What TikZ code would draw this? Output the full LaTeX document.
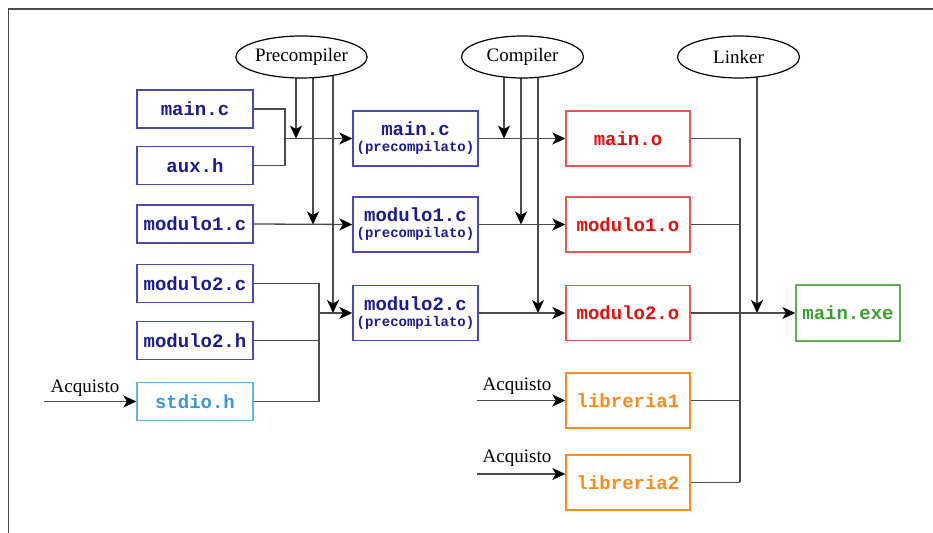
\documentclass[tikz,border=0pt]{standalone}
\usepackage{fontspec}
\setmainfont{Liberation Serif}
\setmonofont{Liberation Mono}
\usetikzlibrary{arrows.meta,backgrounds,shapes.geometric}

\definecolor{srcblue}{HTML}{1C1C8C}
\definecolor{srcline}{HTML}{4A4AB0}
\definecolor{objred}{HTML}{E01010}
\definecolor{objline}{HTML}{E85555}
\definecolor{libor}{HTML}{FF8A1E}
\definecolor{exegreen}{HTML}{3C9E32}
\definecolor{exeline}{HTML}{5AB04A}
\definecolor{sysblue}{HTML}{3A9AD0}
\definecolor{sysline}{HTML}{66B5E0}
\definecolor{wire}{HTML}{4A4A4A}

\tikzset{
  filebox/.style ={rectangle,draw,line width=0.7pt,fill=white,minimum width=58pt,
                   minimum height=19pt,inner sep=0pt,align=center,
                   font=\fontsize{9.5}{9}\selectfont\ttfamily\bfseries},
  srcbox/.style  ={filebox,draw=srcline,text=srcblue},
  sysbox/.style  ={filebox,draw=sysline,text=sysblue},
  prebox/.style  ={filebox,draw=srcline,text=srcblue,minimum width=62.5pt,
                   minimum height=27.5pt},
  objbox/.style  ={filebox,draw=objline,text=objred,minimum width=62pt,
                   minimum height=27.5pt},
  libbox/.style  ={objbox,draw=libor,text=libor},
  exebox/.style  ={filebox,draw=exeline,text=exegreen,minimum width=52pt,
                   minimum height=28pt},
  toolell/.style ={ellipse,draw=black,line width=0.6pt,fill=white,minimum width=61pt,
                   minimum height=21pt,inner sep=0pt,font=\fontsize{9.5}{11}\selectfont},
  ann/.style     ={font=\fontsize{9.5}{11}\selectfont,inner sep=1pt},
  wr/.style      ={draw=wire,line width=0.65pt},
  ar/.style      ={-{Stealth[length=6.5pt,width=6pt,inset=1.8pt,color=black]},
                   draw=wire,line width=0.65pt},
  framel/.style  ={draw=black!70,line width=0.7pt},
}
\newcommand{\precomp}{\\[-1pt]{\fontsize{7}{8}\selectfont(precompilato)}}

\begin{document}
\begin{tikzpicture}[
  x=0.5pt, y=-0.5pt,
]
\useasboundingbox (0,0) rectangle (933,533);
\draw[framel] (8.5,533) -- (8.5,9) -- (933,9);

%% tools
\node[toolell] (precomp) at (301.5,57) {Precompiler};
\node[toolell] (comp)    at (522.5,57) {Compiler};
\node[toolell] (linker)  at (738.5,57) {Linker};

%% sources
\node[srcbox] (mainc)  at (195,109)   {main.c};
\node[srcbox] (auxh)   at (195,165.5) {aux.h};
\node[srcbox] (mod1c)  at (195,224)   {modulo1.c};
\node[srcbox] (mod2c)  at (195,283.5) {modulo2.c};
\node[srcbox] (mod2h)  at (195,340.5) {modulo2.h};
\node[sysbox] (stdioh) at (195,401.5) {stdio.h};

%% precompiled
\node[prebox] (mainp) at (415.5,138.5) {main.c\precomp};
\node[prebox] (mod1p) at (415.5,224.5) {modulo1.c\precomp};
\node[prebox] (mod2p) at (415.5,313)   {modulo2.c\precomp};

%% objects and libraries
\node[objbox] (maino) at (628,138.5) {main.o};
\node[objbox] (mod1o) at (628,224.5) {modulo1.o};
\node[objbox] (mod2o) at (628,313)   {modulo2.o};
\node[libbox] (lib1)  at (628,400.5) {libreria1};
\node[libbox] (lib2)  at (628,482.5) {libreria2};

\node[exebox] (mainexe) at (848,313) {main.exe};

%% junctions and free ends
\coordinate (jmain) at (285,138.5);
\coordinate (jmod2) at (319,313);
\coordinate (lbus)  at (740,482.5);
\coordinate (tp1) at (296,138.5);
\coordinate (tp2) at (313,224.5);
\coordinate (tp3) at (333,313);
\coordinate (tc1) at (504,138.5);
\coordinate (tc2) at (521,224.5);
\coordinate (tc3) at (538,313);
\coordinate (tl)  at (757,313);
\coordinate (a1) at (44,401.5);
\coordinate (a2) at (477,400.5);
\coordinate (a3) at (477,474);

\node[ann,anchor=south] (acq1) at (85,399)  {Acquisto};
\node[ann,anchor=south] (acq2) at (517,397) {Acquisto};
\node[ann,anchor=south] (acq3) at (517,469) {Acquisto};

\begin{scope}[on background layer]
  \draw[wr] (mainc.east) -| (jmain);
  \draw[wr] (auxh.east) -| (jmain);
  \draw[ar] (jmain) -- (mainp.west);
  \draw[ar] (mod1c.east) -- (mod1p.west);
  \draw[wr] (mod2c.east) -| (jmod2);
  \draw[wr] (stdioh.east) -| (jmod2);
  \draw[wr] (mod2h.east) -- (mod2h.east -| jmod2);
  \draw[ar] (jmod2) -- (mod2p.west);

  \draw[ar] (tp1 |- precomp) -- (tp1);
  \draw[ar] (tp2 |- precomp) -- (tp2);
  \draw[ar] (tp3 |- precomp) -- (tp3);
  \draw[ar] (tc1 |- comp) -- (tc1);
  \draw[ar] (tc2 |- comp) -- (tc2);
  \draw[ar] (tc3 |- comp) -- (tc3);
  \draw[ar] (tl |- linker) -- (tl);

  \draw[ar] (mainp) -- (maino);
  \draw[ar] (mod1p) -- (mod1o);
  \draw[ar] (mod2p) -- (mod2o);

  \draw[wr] (maino.east) -| (lbus);
  \draw[wr] (mod1o.east) -- (mod1o.east -| lbus);
  \draw[wr] (lib1.east) -- (lib1.east -| lbus);
  \draw[wr] (lib2.east) -- (lbus);
  \draw[ar] (mod2o) -- (mainexe);

  \draw[ar] (a1) -- (stdioh.west);
  \draw[ar] (a2) -- (lib1.west);
  \draw[ar] (a3) -- (a3 -| lib2.west);
\end{scope}

\end{tikzpicture}
\end{document}
